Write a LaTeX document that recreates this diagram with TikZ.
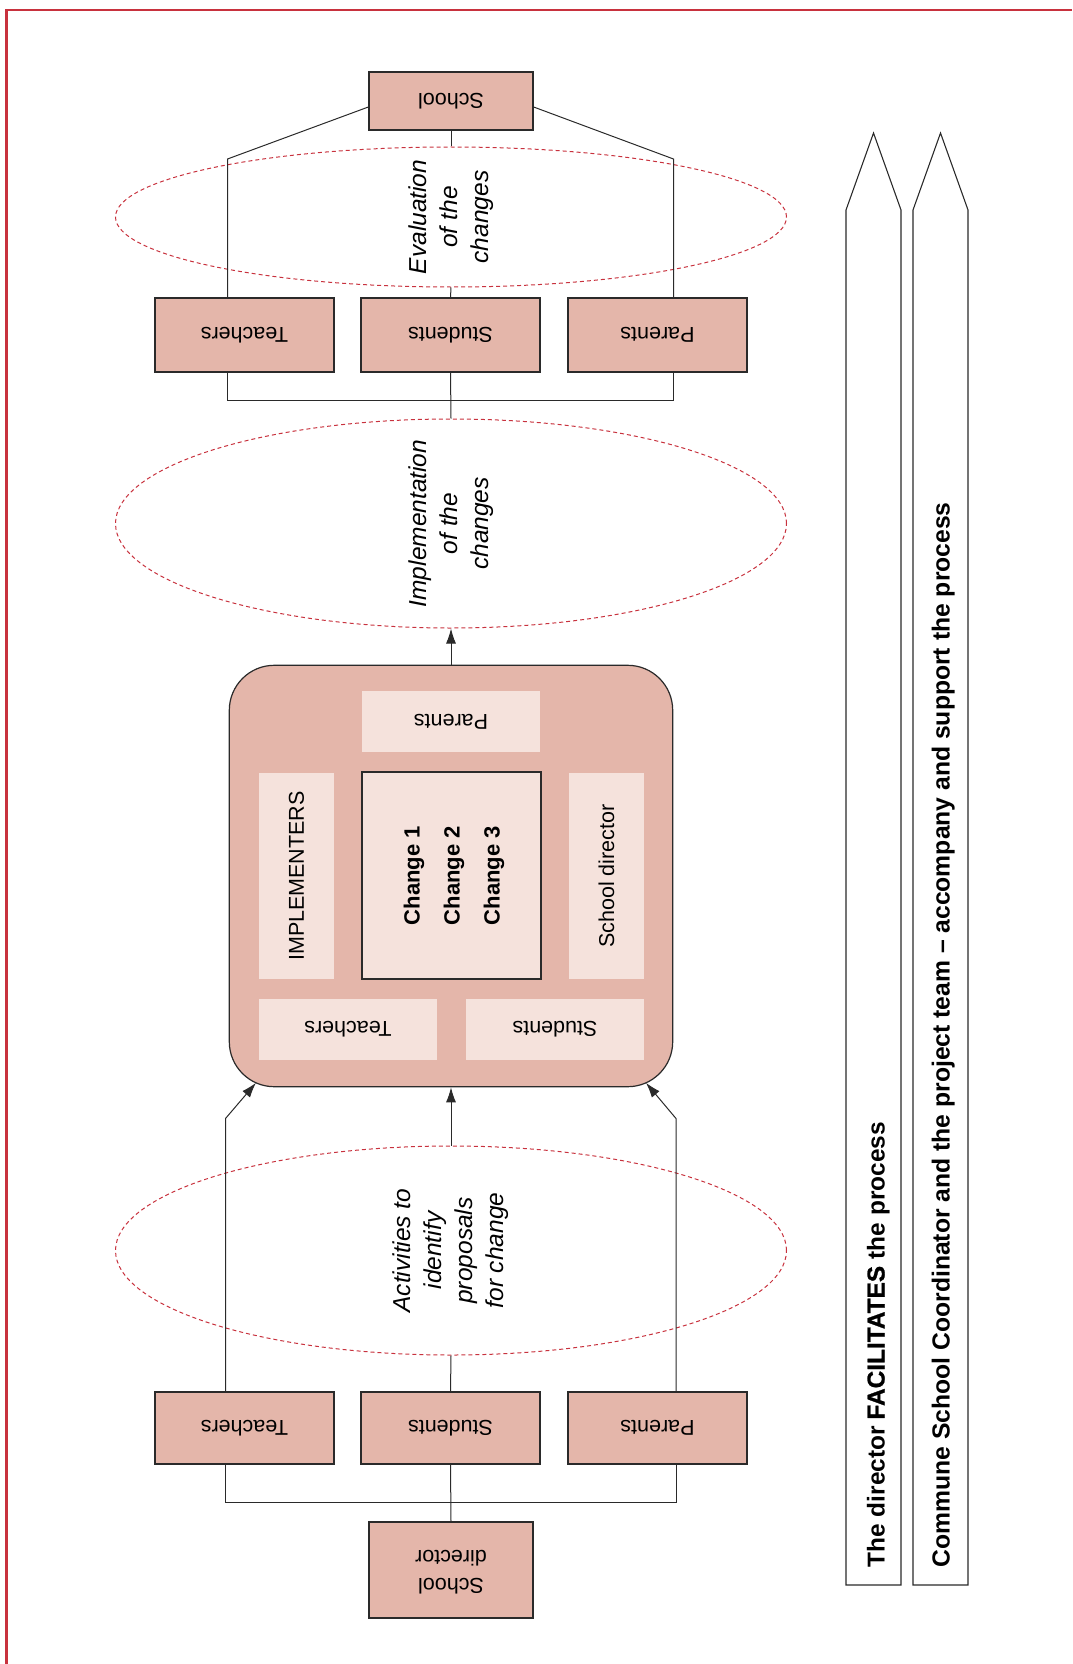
\documentclass[tikz,border=0pt]{standalone}
\usepackage{fontspec}
\usepackage{graphicx}
\setmainfont{Liberation Sans}
\usetikzlibrary{shapes.geometric,arrows.meta,calc}
\definecolor{boxfill}{HTML}{E4B6AA}
\definecolor{lightfill}{HTML}{F5E2DC}
\definecolor{redline}{HTML}{C8323E}
\definecolor{darkline}{HTML}{2A2A2A}
\newcommand{\bxfont}{\fontsize{21.5}{27}\selectfont}
\newcommand{\sdfont}{\fontsize{21.5}{28}\selectfont}
\newcommand{\chfont}{\fontsize{22}{40}\selectfont\bfseries}
\newcommand{\elfont}{\fontsize{24.5}{31}\selectfont\itshape}
\newcommand{\arfont}{\fontsize{24.4}{29}\selectfont\bfseries}
\newcommand{\arfontb}{\fontsize{24.7}{29}\selectfont\bfseries}
\begin{document}
\begin{tikzpicture}[x=1pt,y=-1pt,
  conn/.style={draw=darkline, line width=1pt},
  arr/.style={conn, -{Latex[length=15pt,width=10pt]}},
  pbox/.style={draw=darkline, line width=1.3pt, fill=boxfill, inner sep=0pt, font=\bxfont, minimum width=179pt, minimum height=74pt},
  lbox/.style={fill=lightfill, inner sep=0pt, font=\bxfont},
  oval/.style={ellipse, draw=redline, line width=1pt, dash pattern=on 4pt off 3pt, inner sep=0pt, minimum width=671pt},
  eltext/.style={rotate=90, align=center, font=\elfont, inner sep=0pt},
  bigarrow/.style={draw=darkline, line width=1.1pt, line join=miter},
  artext/.style={rotate=90, anchor=base west, inner sep=0pt}
]
\useasboundingbox (0,0) rectangle (1072,1664);
% frame
\draw[redline, line width=2.4pt] (6.3,1664) -- (6.3,10) -- (1072,10);

% top part
\node[pbox, minimum width=164pt, minimum height=58pt] (School) at (451,101) {\rotatebox{180}{School}};
\node[oval, minimum height=140pt] (E1) at (451,217) {};
\node[eltext] (E1t) at (E1.center) {Evaluation\\of the\\changes};
\node[pbox] (T1) at (244.5,335) {\rotatebox{180}{Teachers}};
\node[pbox] (S1) at (450.5,335) {\rotatebox{180}{Students}};
\node[pbox] (P1) at (657.5,335) {\rotatebox{180}{Parents}};
\node[oval, minimum height=209pt] (E2) at (451,523.5) {};
\node[eltext] (E2t) at (E2.center) {Implementation\\of the\\changes};

% big box
\node[draw=darkline, line width=1.2pt, fill=boxfill, rounded corners=45pt, minimum width=443.4pt, minimum height=421.4pt, inner sep=0pt] (B) at (451,876) {};
\node[lbox, minimum width=178pt, minimum height=61pt] (Bp) at (451,721.5) {\rotatebox{180}{Parents}};
\node[lbox, minimum width=75pt, minimum height=206pt] (Bi) at (296.5,876) {\rotatebox{90}{IMPLEMENTERS}};
\node[lbox, draw=darkline, line width=1.3pt, font=\chfont, minimum width=179pt, minimum height=207pt] (Bc) at (451.5,875.5) {\rotatebox{90}{\begin{tabular}{@{}c@{}}Change 1\\Change 2\\Change 3\end{tabular}}};
\node[lbox, minimum width=75pt, minimum height=206pt] (Bd) at (606.5,876) {\rotatebox{90}{School director}};
\node[lbox, minimum width=178pt, minimum height=61pt] (Bt) at (348,1029.5) {\rotatebox{180}{Teachers}};
\node[lbox, minimum width=178pt, minimum height=61pt] (Bs) at (555,1029.5) {\rotatebox{180}{Students}};

% lower part
\node[oval, minimum height=209pt] (E3) at (451,1250.5) {};
\node[eltext] (E3t) at (E3.center) {Activities to\\identify\\proposals\\for change};
\node[pbox, minimum height=72pt] (T3) at (244.5,1428) {\rotatebox{180}{Teachers}};
\node[pbox, minimum height=72pt] (S3) at (450.5,1428) {\rotatebox{180}{Students}};
\node[pbox, minimum height=72pt] (P3) at (657.5,1428) {\rotatebox{180}{Parents}};
\node[pbox, font=\sdfont, minimum width=164pt, minimum height=96pt] (SD) at (451,1570) {\rotatebox{180}{\begin{tabular}{@{}c@{}}School\\director\end{tabular}}};

% connectors top
\coordinate (L1) at (227.5,159);
\coordinate (R1) at (673.5,159);
\coordinate (K1) at (451,400);
\draw[conn] ($(School.west)+(0,6)$) -- (L1) -- (L1 |- T1.north);
\draw[conn] ($(School.east)+(0,6)$) -- (R1) -- (R1 |- P1.north);
\draw[conn] (School.south) -- (E1.north);
\draw[conn] (E1.south) -- (S1.north);
\draw[conn] (L1 |- T1.south) -- (L1 |- K1) -- (R1 |- K1) -- (R1 |- P1.south);
\draw[conn] (S1.south) -- (E2.north);
\draw[arr] (B.north) -- (E2.south);

% connectors bottom
\coordinate (L3) at (225.5,1118.5);
\coordinate (R3) at (676,1118.5);
\coordinate (tipL) at (256,1082.8);
\coordinate (tipR) at (646,1082.8);
\coordinate (K3) at (451,1502);
\draw[arr] (L3 |- T3.north) -- (L3) -- (tipL);
\draw[arr] (R3 |- P3.north) -- (R3) -- (tipR);
\draw[conn] (S3.north) -- (E3.south);
\draw[arr] (E3.north) -- (B.south);
\draw[conn] (L3 |- T3.south) -- (L3 |- K3) -- (R3 |- K3) -- (R3 |- P3.south);
\draw[conn] (S3.south) -- (SD.north);

% long arrows
\draw[bigarrow] (846,1585) -- (846,210) -- (873.5,133) -- (901,210) -- (901,1585) -- cycle;
\draw[bigarrow] (913,1585) -- (913,210) -- (940.5,133) -- (968,210) -- (968,1585) -- cycle;
\node[artext, font=\arfont] (A1t) at (884.5,1567.5) {The director {\addfontfeature{FakeBold=1}FACILITATES} the process};
\node[artext, font=\arfontb] (A2t) at (949.5,1567.5) {Commune School Coordinator and the project team – accompany and support the process};
\end{tikzpicture}
\end{document}
